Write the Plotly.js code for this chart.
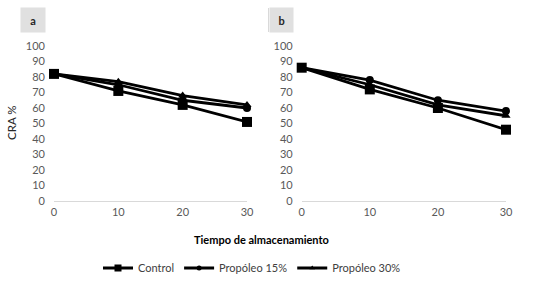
<!DOCTYPE html>
<html>
<head>
<meta charset="utf-8">
<script src="https://cdn.plot.ly/plotly-3.0.1.min.js"></script>
<style>html,body{margin:0;padding:0;background:#fff;}#chart{width:541px;height:288px;}</style>
</head>
<body>
<div id="chart"></div>
<script>
const days = [0, 10, 20, 30];
const seriesNames = ["Control", "Propóleo 15%", "Propóleo 30%"];
const symbols = ["square", "circle", "triangle-up"];
const sizes = [10, 8, 8];
// Panel a
const aControl = [82, 71, 62, 51];
const aProp15 = [82, 75, 65, 60];
const aProp30 = [82, 77, 68, 62];
// Panel b
const bControl = [86, 72, 60, 46];
const bProp15 = [86, 78, 65, 58];
const bProp30 = [86, 75, 62, 55];
const yTicks = [0,10,20,30,40,50,60,70,80,90,100];
const xTicks = [0,10,20,30];

const panelA = [aControl, aProp15, aProp30];
const panelB = [bControl, bProp15, bProp30];
const traces = [];
[panelA, panelB].forEach((panel, p) => {
  panel.forEach((vals, i) => {
    traces.push({
      x: days, y: vals, type: 'scatter', mode: 'lines+markers',
      name: seriesNames[i], showlegend: false, legendgroup: seriesNames[i],
      xaxis: p === 0 ? 'x' : 'x2', yaxis: p === 0 ? 'y' : 'y2',
      line: {color: '#000', width: 2.8},
      marker: {symbol: symbols[i], size: sizes[i], color: '#000'},
      cliponaxis: false
    });
  });
});
// legend entries (small markers, as in the reference legend)
seriesNames.forEach((name, i) => {
  traces.push({
    x: [null], y: [null], type: 'scatter', mode: 'lines+markers', name: name,
    legendgroup: name, showlegend: true, xaxis: 'x', yaxis: 'y',
    line: {color: '#000', width: 3.2},
    marker: {symbol: symbols[i], size: i === 0 ? 7 : 5, color: '#000'}
  });
});

const W = 541, H = 288;
const FONT = 'Lato, sans-serif';
const tickFont = {family: FONT, size: 11, color: '#595959'};
const yAx = () => ({
  domain: [(H - 201) / H, (H - 46) / H], range: [0, 100],
  tickvals: yTicks, ticktext: yTicks.map(String), showgrid: false, zeroline: false,
  showline: false, ticks: '', tickfont: tickFont, fixedrange: true, ticklabelstandoff: 8
});
const xAx = (d0, d1) => ({
  domain: [d0 / W, d1 / W], range: [0, 30],
  tickvals: xTicks, ticktext: xTicks.map(String), showgrid: false, zeroline: false,
  showline: true, linecolor: '#d9d9d9', linewidth: 1, ticks: '', tickfont: tickFont,
  fixedrange: true, ticklabelstandoff: 1
});

const layout = {
  width: W, height: H, margin: {l: 0, r: 0, t: 0, b: 0},
  paper_bgcolor: '#fff', plot_bgcolor: '#fff', showlegend: true,
  xaxis: xAx(54, 247), yaxis: Object.assign(yAx(), {anchor: 'x'}),
  xaxis2: Object.assign(xAx(301.7, 506), {anchor: 'y2'}),
  yaxis2: Object.assign(yAx(), {anchor: 'x2'}),
  legend: {orientation: 'h', x: 98 / W, xanchor: 'left', y: (H - 268) / H, yanchor: 'middle',
    font: {family: FONT, size: 11, color: '#404040'},
    itemsizing: 'trace', itemwidth: 30, tracegroupgap: 0},
  annotations: [
    {text: 'Tiempo de almacenamiento', xref: 'paper', yref: 'paper', x: 261.5 / W, y: (H - 239) / H,
      xanchor: 'center', yanchor: 'middle',
      showarrow: false, font: {family: FONT, size: 11, color: '#000', weight: 'bold'}},
    {text: 'CRA %', xref: 'paper', yref: 'paper', x: 11 / W, y: (H - 123) / H, textangle: -90,
      xanchor: 'center', yanchor: 'middle',
      showarrow: false, font: {family: FONT, size: 11.5, color: '#262626'}},
    {text: 'a', xref: 'paper', yref: 'paper', x: 33 / W, y: (H - 20) / H, width: 22, height: 22,
      xanchor: 'center', yanchor: 'middle',
      bgcolor: '#e0e0e0', showarrow: false, font: {family: FONT, size: 11, color: '#262626', weight: 'bold'}},
    {text: 'b', xref: 'paper', yref: 'paper', x: 281.5 / W, y: (H - 20) / H, width: 21, height: 22,
      xanchor: 'center', yanchor: 'middle',
      bgcolor: '#e0e0e0', showarrow: false, font: {family: FONT, size: 11, color: '#262626', weight: 'bold'}}
  ],
  shapes: [
    {type: 'line', xref: 'paper', yref: 'paper', x0: 268.5 / W, x1: 268.5 / W, y0: (H - 32) / H, y1: (H - 8) / H,
      line: {color: '#d9d9d9', width: 1}}
  ]
};

Plotly.newPlot('chart', traces, layout, {displayModeBar: false, staticPlot: true});
</script>
</body>
</html>
